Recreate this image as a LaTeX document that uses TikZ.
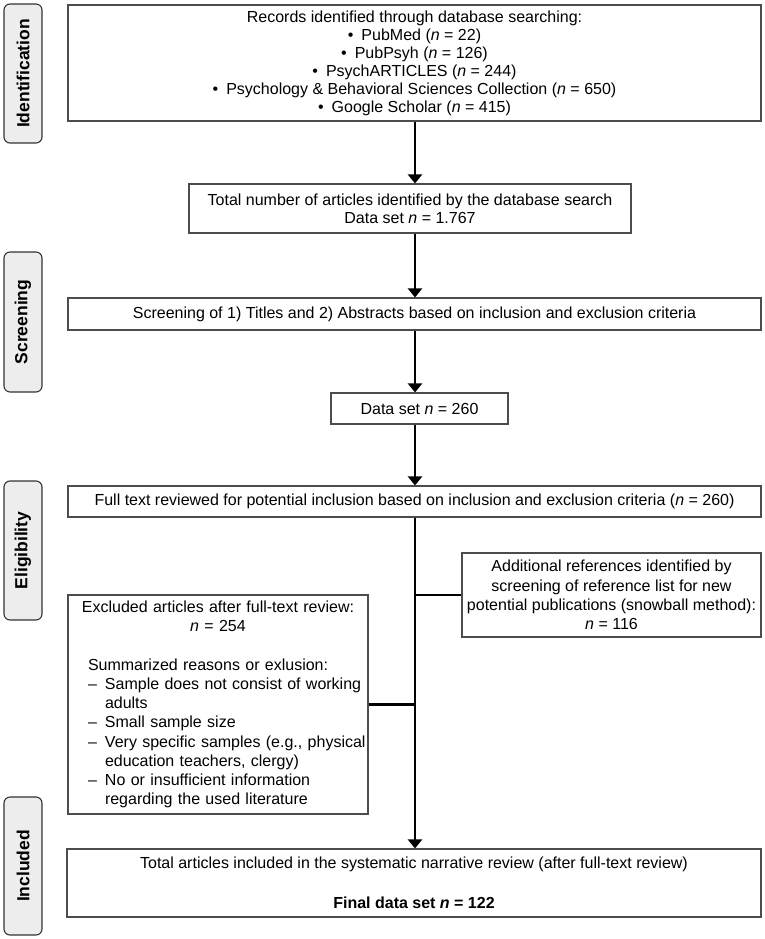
\documentclass[tikz,border=0pt]{standalone}
\usepackage{fontspec}
\setmainfont{Liberation Sans}
\usetikzlibrary{arrows.meta,positioning}

\newcommand{\dashline}[2]{\par\hangindent=17pt\hangafter=1\noindent\makebox[17pt][l]{\textendash}\mbox{#1}\ifx&#2&\else\newline\mbox{#2}\fi\par}

\begin{document}
\begin{tikzpicture}
%PRISMA style flow chart
	[
	 	 %Styles
       x=1pt, y=-1pt,
       box_node/.style={rectangle,draw=black!70,line width=1.1pt,fill=white,inner sep=0pt,align=center,
                        font=\fontsize{16}{19.3}\selectfont},
		 phase_node/.style={rectangle,rounded corners=6pt,draw=black!80,fill=black!7,line width=1.1pt,
                        inner sep=0pt,rotate=90,minimum height=38pt,font=\fontsize{17.5}{20}\selectfont\bfseries},
		 flow_line/.style={line width=2.6pt,-{Triangle[width=14pt,length=9pt]}},
		 branch_line/.style={line width=2.6pt}
    ]
    \useasboundingbox (0,0) rectangle (765,939);

    %Phase labels
    \node (identification) [phase_node, minimum width=139pt] at (23,73.5) {Identification};
    \node (screening) [phase_node, minimum width=140pt] at (23,322) {Screening};
    \node (eligibility) [phase_node, minimum width=139pt] at (23,550.5) {Eligibility};
    \node (included) [phase_node, minimum width=138pt] at (23,866) {Included};

    %Node placement
    \node (records) [box_node, minimum width=693pt, minimum height=116pt, font=\fontsize{16}{18}\selectfont]
       at (414.5,63) {Records identified through database searching:\\
       \textbullet\enspace PubMed (\textit{n} = 22)\\
       \textbullet\enspace PubPsyh (\textit{n} = 126)\\
       \textbullet\enspace PsychARTICLES (\textit{n} = 244)\\
       \textbullet\enspace Psychology \& Behavioral Sciences Collection (\textit{n} = 650)\\
       \textbullet\enspace Google Scholar (\textit{n} = 415)};
    \node (total) [box_node, minimum width=442pt, minimum height=49pt, font=\fontsize{16}{18}\selectfont]
       at (410,208.5) {Total number of articles identified by the database search\\
       Data set \textit{n} = 1.767};
    \node (titles) [box_node, minimum width=693pt, minimum height=32pt] at (414.5,314)
       {Screening of 1) Titles and 2) Abstracts based on inclusion and exclusion criteria};
    \node (dataset) [box_node, minimum width=177pt, minimum height=31pt] at (419.5,408.5)
       {Data set \textit{n} = 260};
    \node (fulltext) [box_node, minimum width=693pt, minimum height=31pt] at (414.5,501.5)
       {Full text reviewed for potential inclusion based on inclusion and exclusion criteria (\textit{n} = 260)};
    \node (snowball) [box_node, minimum width=299pt, minimum height=84pt] at (611.5,595)
       {Additional references identified by\\ screening of reference list for new\\
       potential publications (snowball method):\\ \textit{n} = 116};
    \node (excluded) [box_node, minimum width=300pt, minimum height=219pt, text width=300pt,
       align=left, font=\fontsize{16}{19.2}\selectfont] at (218,704.5)
       {{\centering Excluded articles after full-text review:\\ \textit{n} = 254\par}
       \vspace{19.2pt}\raggedright\leftskip=20pt
       \noindent Summarized reasons or exlusion:
       \dashline{Sample does not consist of working}{adults}
       \dashline{Small sample size}{}
       \dashline{Very specific samples (e.g., physical}{education teachers, clergy)}
       \dashline{No or insufficient information}{regarding the used literature}};
    \node (final) [box_node, minimum width=694pt, minimum height=68pt, font=\fontsize{16}{20}\selectfont]
       at (414,883) {Total articles included in the systematic narrative review (after full-text review)\\[20pt]
       \textbf{Final data set \textit{n} = 122}};
    \coordinate (trunk) at (415,0);

   %Edges
   \draw[flow_line] (records.south -| trunk) -- (total.north -| trunk);
   \draw[flow_line] (total.south -| trunk) -- (titles.north -| trunk);
   \draw[flow_line] (titles.south -| trunk) -- (dataset.north -| trunk);
   \draw[flow_line] (dataset.south -| trunk) -- (fulltext.north -| trunk);
   \draw[flow_line] (fulltext.south -| trunk) -- (final.north -| trunk);
   \draw[branch_line] (snowball.west -| trunk) -- (snowball.west);
   \draw[branch_line] (excluded.east) -- (excluded.east -| trunk);
\end{tikzpicture}
\end{document}
